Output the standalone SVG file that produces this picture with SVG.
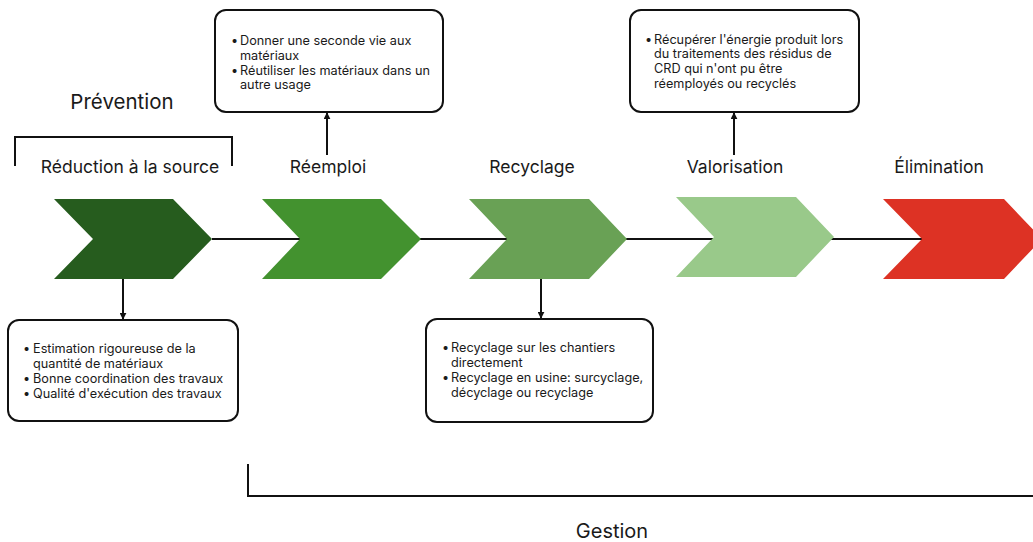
<svg xmlns="http://www.w3.org/2000/svg" width="1033" height="542" viewBox="0 0 1033 542">
<defs>
<marker id="ah" viewBox="0 0 10 10" refX="9" refY="5" markerWidth="7" markerHeight="7" markerUnits="userSpaceOnUse" orient="auto">
<path d="M0,0 L10,5 L0,10 z" fill="#111"/>
</marker>
<style>
.t{font-family:Inter,"Liberation Sans",sans-serif;fill:#1a1a1a}
.h{font-size:17.5px}
.b{font-size:12.7px}
.box{fill:#fff;stroke:#111;stroke-width:2}
.ln{stroke:#111;stroke-width:2;fill:none}
</style>
</defs>
<rect width="1033" height="542" fill="#fff"/>
<g id="connectors">
<line class="ln" x1="212" y1="239" x2="922" y2="239"/>
<line class="ln" x1="123" y1="279" x2="123" y2="319" marker-end="url(#ah)"/>
<line class="ln" x1="541" y1="279" x2="541" y2="318" marker-end="url(#ah)"/>
<line class="ln" x1="327" y1="155" x2="327" y2="113" marker-end="url(#ah)"/>
<line class="ln" x1="734" y1="155" x2="734" y2="113" marker-end="url(#ah)"/>
<path class="ln" d="M15,166 V137 H232 V166"/>
<path class="ln" d="M248,464 V496 H1033"/>
</g>
<g id="prevention"><text class="t" x="122" y="109" font-size="20.5" text-anchor="middle">Prévention</text></g>
<g id="gestion"><text class="t" x="612" y="538" font-size="20" text-anchor="middle">Gestion</text></g>
<g id="reduction">
<text class="t h" x="130" y="173" text-anchor="middle">Réduction à la source</text>
<polygon points="54,199 173,199 212,239 173,279 54,279 93,239" fill="#265c1e"/>
</g>
<g id="reemploi">
<text class="t h" x="328" y="173" text-anchor="middle">Réemploi</text>
<polygon points="262,199 381,199 421,239 381,279 262,279 300,239" fill="#43922f"/>
</g>
<g id="recyclage">
<text class="t h" x="532" y="173" text-anchor="middle">Recyclage</text>
<polygon points="469,199 589,199 627,239 589,279 469,279 507,239" fill="#69a155"/>
</g>
<g id="valorisation">
<text class="t h" x="735" y="173" text-anchor="middle">Valorisation</text>
<polygon points="676,197 796,197 834,237 796,277 676,277 714,237" fill="#99c98a"/>
</g>
<g id="elimination">
<text class="t h" x="939" y="173" text-anchor="middle">Élimination</text>
<polygon points="883,199 1004,199 1042,239 1004,279 883,279 922,239" fill="#dd3224"/>
</g>
<g id="box-reemploi">
<rect class="box" x="215" y="10" width="228" height="102" rx="11"/>
<text class="t b"><tspan x="231" y="45">•</tspan><tspan x="240" y="45">Donner une seconde vie aux</tspan><tspan x="240" y="60">matériaux</tspan><tspan x="231" y="75">•</tspan><tspan x="240" y="75">Réutiliser les matériaux dans un</tspan><tspan x="240" y="89">autre usage</tspan></text>
</g>
<g id="box-valorisation">
<rect class="box" x="630" y="10" width="229" height="102" rx="11"/>
<text class="t b"><tspan x="645" y="44">•</tspan><tspan x="654" y="44">Récupérer l'énergie produit lors</tspan><tspan x="654" y="58">du traitements des résidus de</tspan><tspan x="654" y="73">CRD qui n'ont pu être</tspan><tspan x="654" y="88">réemployés ou recyclés</tspan></text>
</g>
<g id="box-reduction">
<rect class="box" x="8" y="320" width="230" height="101" rx="11"/>
<text class="t b"><tspan x="23" y="353">•</tspan><tspan x="33" y="353">Estimation rigoureuse de la</tspan><tspan x="33" y="368">quantité de matériaux</tspan><tspan x="23" y="383">•</tspan><tspan x="33" y="383">Bonne coordination des travaux</tspan><tspan x="23" y="398">•</tspan><tspan x="33" y="398">Qualité d'exécution des travaux</tspan></text>
</g>
<g id="box-recyclage">
<rect class="box" x="426" y="319" width="227" height="103" rx="11"/>
<text class="t b"><tspan x="442" y="352">•</tspan><tspan x="451" y="352">Recyclage sur les chantiers</tspan><tspan x="451" y="367">directement</tspan><tspan x="442" y="382">•</tspan><tspan x="451" y="382">Recyclage en usine: surcyclage,</tspan><tspan x="451" y="397">décyclage ou recyclage</tspan></text>
</g>
</svg>
